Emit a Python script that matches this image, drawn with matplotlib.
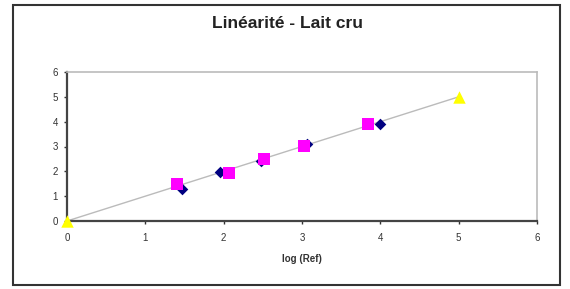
import matplotlib
matplotlib.use("Agg")
import matplotlib.pyplot as plt
from matplotlib.patches import Rectangle

plt.rcParams['font.family'] = ['Liberation Sans', 'DejaVu Sans']

# Data
diam_x = [1.47, 1.95, 2.48, 3.06, 4.0]
diam_y = [1.28, 1.98, 2.42, 3.1, 3.92]
sq_x = [1.40, 2.07, 2.52, 3.02, 3.84]
sq_y = [1.48, 1.92, 2.5, 3.04, 3.9]
tri_x = [0, 5]
tri_y = [0, 5]
line_x = [0, 5]
line_y = [0, 5]
xticks = [0, 1, 2, 3, 4, 5, 6]
yticks = [0, 1, 2, 3, 4, 5, 6]

fig = plt.figure(figsize=(5.7, 2.89), dpi=100)
fig.patches.append(Rectangle((13/570, 1-285/289), 547/570, 280/289,
                             transform=fig.transFigure, fill=False,
                             edgecolor='#333333', linewidth=1.5))
ax = fig.add_axes([67/570, 1-221/289, 470/570, 149/289])
ax.plot(line_x, line_y, color='#bbbbbb', linewidth=1, zorder=1)
ax.scatter(diam_x, diam_y, marker='D', s=35, color='#000080', zorder=3, linewidths=0)
ax.scatter(sq_x, sq_y, marker='s', s=70, color='#ff00ff', zorder=4, linewidths=0)
ax.scatter(tri_x, tri_y, marker='^', s=80, color='#ffff00', zorder=5, linewidths=0, clip_on=False)

ax.set_xlim(0, 6)
ax.set_ylim(0, 6)
ax.set_xticks(xticks)
ax.set_yticks(yticks)
ax.tick_params(labelsize=7, length=2.5, width=1, color='#333333', labelcolor='#333333')
ax.tick_params(axis='x', pad=6)
ax.tick_params(axis='y', pad=4)
for s in ['left', 'bottom']:
    ax.spines[s].set_color('#444444')
    ax.spines[s].set_linewidth(1.6)
for s in ['top', 'right']:
    ax.spines[s].set_color('#bbbbbb')
    ax.spines[s].set_linewidth(1.2)
ax.set_xlabel('log (Ref)', fontsize=7, fontweight='bold', color='#333333', labelpad=8)
fig.text(287/570, 1 - 23/289, 'Linéarité - Lait cru', ha='center', va='center',
         fontsize=12.5, fontweight='bold', color='#222222')

fig.savefig('out.png', dpi=100)
